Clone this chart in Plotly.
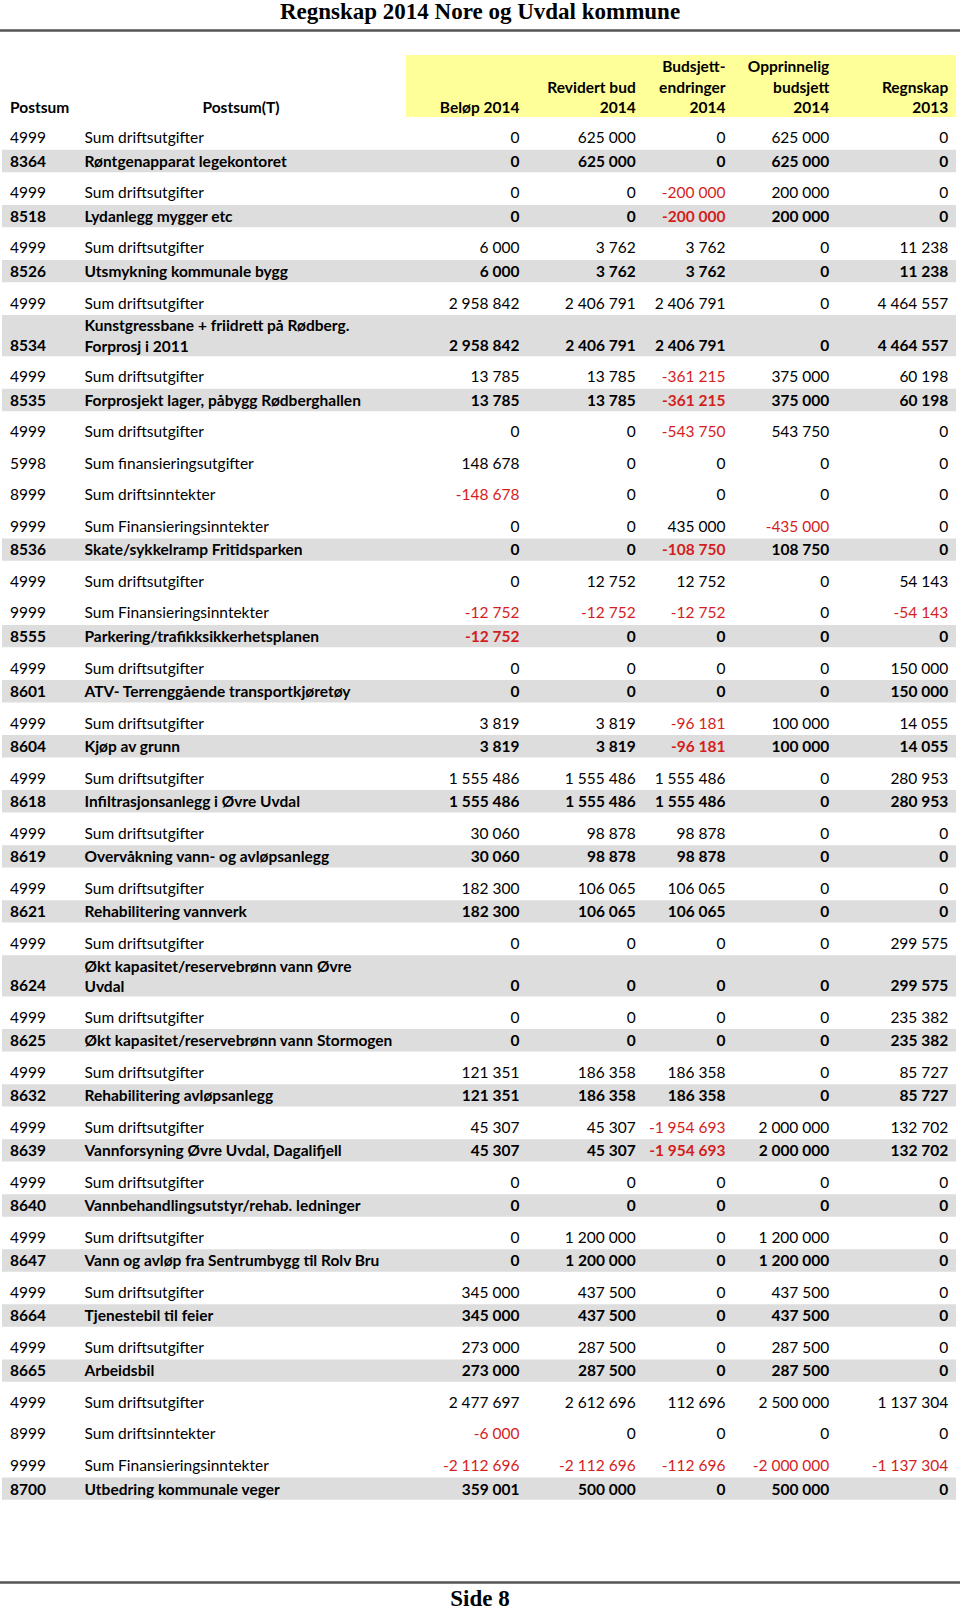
import plotly.graph_objects as go

# ---------------- data ----------------
title = "Regnskap 2014 Nore og Uvdal kommune"
footer = "Side 8"

header_code = "Postsum"
header_name = "Postsum(T)"
value_headers = [
    ["Beløp 2014"],
    ["Revidert bud", "2014"],
    ["Budsjett-", "endringer", "2014"],
    ["Opprinnelig", "budsjett", "2014"],
    ["Regnskap", "2013"],
]

SUM_CODES = [4999, 5998, 8999, 9999]

codes = [4999, 8364, 4999, 8518, 4999, 8526, 4999, 8534, 4999, 8535,
         4999, 5998, 8999, 9999, 8536, 4999, 9999, 8555, 4999, 8601,
         4999, 8604, 4999, 8618, 4999, 8619, 4999, 8621, 4999, 8624,
         4999, 8625, 4999, 8632, 4999, 8639, 4999, 8640, 4999, 8647,
         4999, 8664, 4999, 8665, 4999, 8999, 9999, 8700]

SD = "Sum driftsutgifter"
names = [
    SD, "Røntgenapparat legekontoret",
    SD, "Lydanlegg mygger etc",
    SD, "Utsmykning kommunale bygg",
    SD, "Kunstgressbane + friidrett på Rødberg.\nForprosj i 2011",
    SD, "Forprosjekt lager, påbygg Rødberghallen",
    SD, "Sum finansieringsutgifter", "Sum driftsinntekter", "Sum Finansieringsinntekter",
    "Skate/sykkelramp Fritidsparken",
    SD, "Sum Finansieringsinntekter", "Parkering/trafikksikkerhetsplanen",
    SD, "ATV- Terrenggående transportkjøretøy",
    SD, "Kjøp av grunn",
    SD, "Infiltrasjonsanlegg i Øvre Uvdal",
    SD, "Overvåkning vann- og avløpsanlegg",
    SD, "Rehabilitering vannverk",
    SD, "Økt kapasitet/reservebrønn vann Øvre\nUvdal",
    SD, "Økt kapasitet/reservebrønn vann Stormogen",
    SD, "Rehabilitering avløpsanlegg",
    SD, "Vannforsyning Øvre Uvdal, Dagalifjell",
    SD, "Vannbehandlingsutstyr/rehab. ledninger",
    SD, "Vann og avløp fra Sentrumbygg til Rolv Bru",
    SD, "Tjenestebil til feier",
    SD, "Arbeidsbil",
    SD, "Sum driftsinntekter", "Sum Finansieringsinntekter", "Utbedring kommunale veger",
]

belop_2014 = [0, 0, 0, 0, 6000, 6000, 2958842, 2958842, 13785, 13785,
              0, 148678, -148678, 0, 0, 0, -12752, -12752, 0, 0,
              3819, 3819, 1555486, 1555486, 30060, 30060, 182300, 182300, 0, 0,
              0, 0, 121351, 121351, 45307, 45307, 0, 0, 0, 0,
              345000, 345000, 273000, 273000, 2477697, -6000, -2112696, 359001]

revidert_bud_2014 = [625000, 625000, 0, 0, 3762, 3762, 2406791, 2406791, 13785, 13785,
                     0, 0, 0, 0, 0, 12752, -12752, 0, 0, 0,
                     3819, 3819, 1555486, 1555486, 98878, 98878, 106065, 106065, 0, 0,
                     0, 0, 186358, 186358, 45307, 45307, 0, 0, 1200000, 1200000,
                     437500, 437500, 287500, 287500, 2612696, 0, -2112696, 500000]

budsjettendringer_2014 = [0, 0, -200000, -200000, 3762, 3762, 2406791, 2406791, -361215, -361215,
                          -543750, 0, 0, 435000, -108750, 12752, -12752, 0, 0, 0,
                          -96181, -96181, 1555486, 1555486, 98878, 98878, 106065, 106065, 0, 0,
                          0, 0, 186358, 186358, -1954693, -1954693, 0, 0, 0, 0,
                          0, 0, 0, 0, 112696, 0, -112696, 0]

opprinnelig_budsjett_2014 = [625000, 625000, 200000, 200000, 0, 0, 0, 0, 375000, 375000,
                             543750, 0, 0, -435000, 108750, 0, 0, 0, 0, 0,
                             100000, 100000, 0, 0, 0, 0, 0, 0, 0, 0,
                             0, 0, 0, 0, 2000000, 2000000, 0, 0, 1200000, 1200000,
                             437500, 437500, 287500, 287500, 2500000, 0, -2000000, 500000]

regnskap_2013 = [0, 0, 0, 0, 11238, 11238, 4464557, 4464557, 60198, 60198,
                 0, 0, 0, 0, 0, 54143, -54143, 0, 150000, 150000,
                 14055, 14055, 280953, 280953, 0, 0, 0, 0, 299575, 299575,
                 235382, 235382, 85727, 85727, 132702, 132702, 0, 0, 0, 0,
                 0, 0, 0, 0, 1137304, 0, -1137304, 0]

value_columns = [belop_2014, revidert_bud_2014, budsjettendringer_2014,
                 opprinnelig_budsjett_2014, regnskap_2013]

# ---------------- layout / style ----------------
W, H = 960, 1613
FONT = "Lato, Carlito, Calibri, sans-serif"
FS = 15.5
TITLE_FONT = "Liberation Serif, Times New Roman, serif"
BLACK = "#000000"
RED = "#D41E1E"
GRAY = "#DDDDDD"
YELLOW = "#FFFF99"

CODE_X = 10
NAME_X = 84.5
NAME_HEAD_X = 241
VALUE_RIGHT = [519.5, 635.7, 725.5, 829.3, 948.3]
BAND_LEFT, BAND_RIGHT = 2, 956

FIRST_Y = 139.5
STEP_SUM = 31.5
STEP_PROJ = 23.55
LINE_PITCH = 18.8
BAND_ABOVE = 13.2
BAND_BELOW = 9.2


def fmt(v):
    s = f"{abs(v):,}".replace(",", "\u00a0")
    return ("-" + s) if v < 0 else s


# row vertical positions (computed from the row order)
is_proj = [c not in SUM_CODES for c in codes]
nlines = [len(n.split("\n")) for n in names]
first_line_y, last_line_y = [], []
y = None
for i in range(len(codes)):
    if y is None:
        y1 = FIRST_Y
    else:
        y1 = y + (STEP_PROJ if is_proj[i] else STEP_SUM)
    yl = y1 + LINE_PITCH * (nlines[i] - 1)
    first_line_y.append(y1)
    last_line_y.append(yl)
    y = yl

fig = go.Figure()

# header band
HEAD_TOP, HEAD_BOT = 55.0, 117.0
fig.add_trace(go.Bar(
    orientation="h", y=[(HEAD_TOP + HEAD_BOT) / 2], x=[BAND_RIGHT - 406],
    base=[406], width=[HEAD_BOT - HEAD_TOP],
    marker=dict(color=YELLOW, line=dict(width=0)), hoverinfo="skip"))

# grey bands for project rows
band_y, band_h = [], []
for i in range(len(codes)):
    if is_proj[i]:
        top = first_line_y[i] - BAND_ABOVE
        bot = last_line_y[i] + BAND_BELOW
        band_y.append((top + bot) / 2)
        band_h.append(bot - top)
fig.add_trace(go.Bar(
    orientation="h", y=band_y, x=[BAND_RIGHT - BAND_LEFT] * len(band_y),
    base=[BAND_LEFT] * len(band_y), width=band_h,
    marker=dict(color=GRAY, line=dict(width=0)), hoverinfo="skip"))


def b(s, bold):
    return f"<b>{s}</b>" if bold else s


# code column
fig.add_trace(go.Scatter(
    x=[CODE_X] * len(codes), y=last_line_y, mode="text",
    text=[b(str(c), p) for c, p in zip(codes, is_proj)],
    textposition="middle right",
    textfont=dict(family=FONT, size=FS, color=BLACK), hoverinfo="skip"))

# name column
fig.add_trace(go.Scatter(
    x=[NAME_X] * len(names),
    y=[(a + c) / 2 for a, c in zip(first_line_y, last_line_y)], mode="text",
    text=[b(n.replace("\n", "<br>"), p) for n, p in zip(names, is_proj)],
    textposition="middle right",
    textfont=dict(family=FONT, size=FS, color=BLACK), hoverinfo="skip"))

# value columns
for col, xr in zip(value_columns, VALUE_RIGHT):
    fig.add_trace(go.Scatter(
        x=[xr] * len(col), y=last_line_y, mode="text",
        text=[b(fmt(v), p) for v, p in zip(col, is_proj)],
        textposition="middle left",
        textfont=dict(family=FONT, size=FS,
                      color=[RED if v < 0 else BLACK for v in col]),
        hoverinfo="skip"))

# headers
HEAD_LAST_Y = 109.5
HEAD_PITCH = 20.5
hx, hy, ht = [], [], []
fig.add_trace(go.Scatter(
    x=[CODE_X], y=[HEAD_LAST_Y], mode="text", text=[b(header_code, True)],
    textposition="middle right", textfont=dict(family=FONT, size=FS, color=BLACK),
    hoverinfo="skip"))
fig.add_trace(go.Scatter(
    x=[NAME_HEAD_X], y=[HEAD_LAST_Y], mode="text", text=[b(header_name, True)],
    textposition="middle center", textfont=dict(family=FONT, size=FS, color=BLACK),
    hoverinfo="skip"))
for lines, xr in zip(value_headers, VALUE_RIGHT):
    n = len(lines)
    for k, line in enumerate(lines):
        hx.append(xr)
        hy.append(HEAD_LAST_Y - HEAD_PITCH * (n - 1 - k))
        ht.append(b(line, True))
fig.add_trace(go.Scatter(
    x=hx, y=hy, mode="text", text=ht, textposition="middle left",
    textfont=dict(family=FONT, size=FS, color=BLACK), hoverinfo="skip"))

# title and footer
fig.add_trace(go.Scatter(
    x=[W / 2, W / 2], y=[13.0, 1600.5], mode="text",
    text=[b(title, True), b(footer, True)], textposition="middle center",
    textfont=dict(family=TITLE_FONT, size=23, color=BLACK), hoverinfo="skip",
    cliponaxis=False))

for yy in (30.5, 1582.5):
    fig.add_shape(type="line", xref="x", yref="y", x0=0, x1=W, y0=yy, y1=yy,
                  line=dict(color="#555555", width=2.5), layer="above")

fig.update_layout(
    width=W, height=H, margin=dict(l=0, r=0, t=0, b=0),
    paper_bgcolor="white", plot_bgcolor="white",
    showlegend=False, barmode="overlay",
    xaxis=dict(range=[0, W], visible=False, fixedrange=True),
    yaxis=dict(range=[H, 0], visible=False, fixedrange=True),
)

fig.write_html(
    "out.html",
    config={"displayModeBar": False, "staticPlot": True},
    post_script="document.body.style.margin='0';document.body.style.overflow='hidden';",
)
